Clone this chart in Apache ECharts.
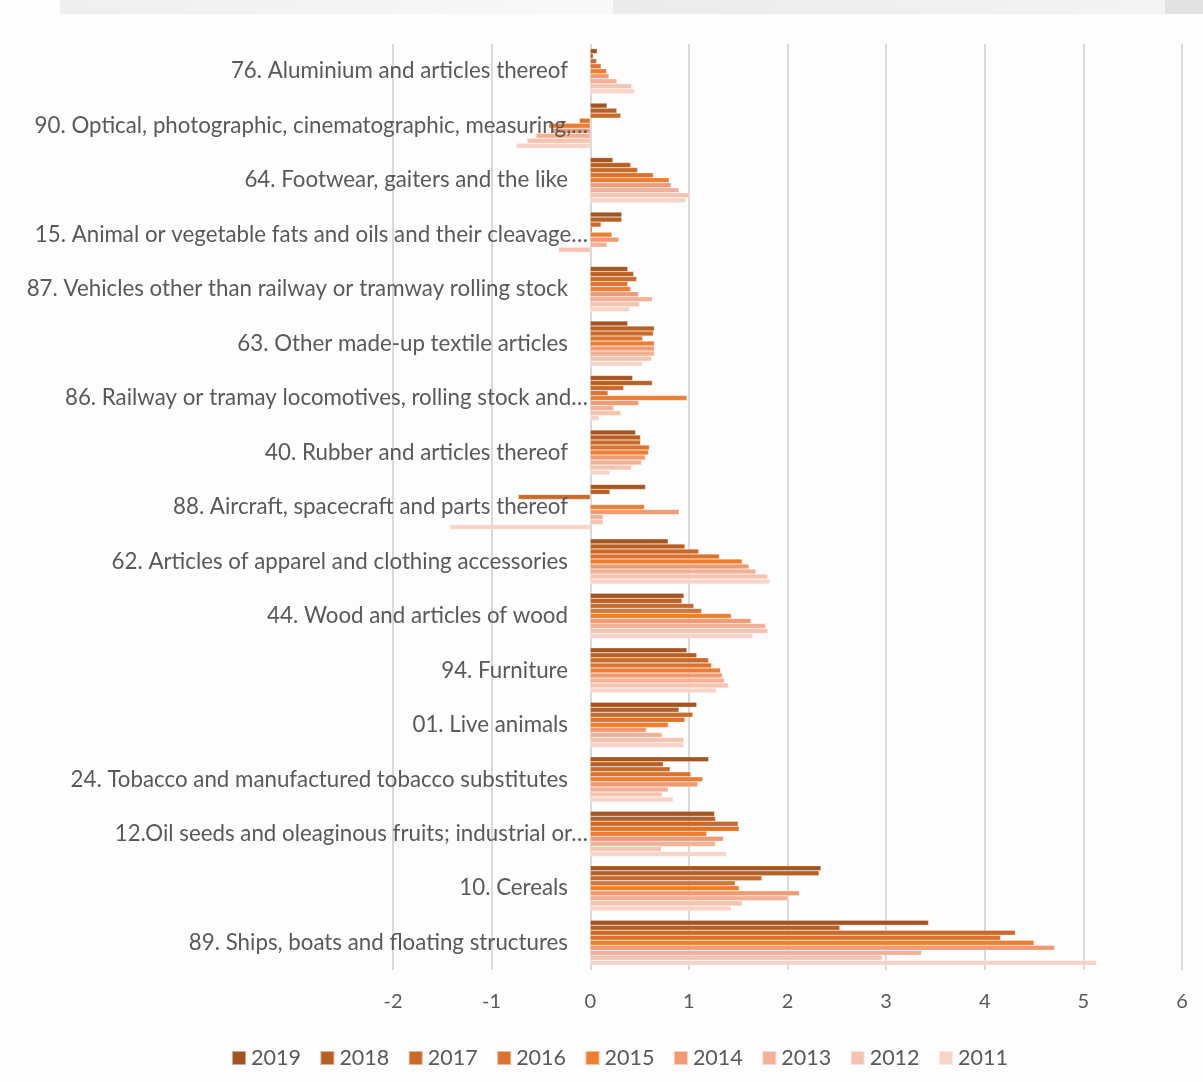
<!DOCTYPE html>
<html>
<head>
<meta charset="utf-8">
<script src="https://cdn.jsdelivr.net/npm/echarts@6/dist/echarts.min.js"></script>
<style>
html,body{margin:0;padding:0;background:#fdfdfd;}
#c{width:1203px;height:1082px;}
</style>
</head>
<body>
<div id="c"></div>
<script>
const categories = [
  "76. Aluminium and articles thereof",
  "90. Optical, photographic, cinematographic, measuring,…",
  "64. Footwear, gaiters and the like",
  "15. Animal or vegetable fats and oils and their cleavage…",
  "87. Vehicles other than railway or tramway rolling stock",
  "63. Other made-up textile articles",
  "86. Railway or tramay locomotives, rolling stock and…",
  "40. Rubber and articles thereof",
  "88. Aircraft, spacecraft and parts thereof",
  "62. Articles of apparel and clothing accessories",
  "44. Wood and articles of wood",
  "94. Furniture",
  "01. Live animals",
  "24. Tobacco and manufactured tobacco substitutes",
  "12.Oil seeds and oleaginous fruits; industrial or…",
  "10. Cereals",
  "89. Ships, boats and floating structures"
];
const years = ["2019","2018","2017","2016","2015","2014","2013","2012","2011"];
const v2019 = [0.07, 0.17, 0.23, 0.32, 0.38, 0.38, 0.43, 0.46, 0.56, 0.79, 0.95, 0.98, 1.08, 1.20, 1.26, 2.34, 3.43];
const v2018 = [0.03, 0.27, 0.41, 0.32, 0.44, 0.65, 0.63, 0.51, 0.20, 0.96, 0.93, 1.08, 0.90, 0.74, 1.27, 2.32, 2.53];
const v2017 = [0.065, 0.31, 0.48, 0.11, 0.47, 0.64, 0.34, 0.51, -0.73, 1.10, 1.05, 1.20, 1.04, 0.81, 1.50, 1.74, 4.31];
const v2016 = [0.11, -0.11, 0.64, 0.02, 0.38, 0.53, 0.18, 0.60, 0, 1.31, 1.13, 1.23, 0.96, 1.02, 1.51, 1.47, 4.16];
const v2015 = [0.165, -0.42, 0.80, 0.22, 0.41, 0.65, 0.98, 0.59, 0.55, 1.54, 1.43, 1.32, 0.79, 1.14, 1.18, 1.51, 4.50];
const v2014 = [0.19, -0.40, 0.82, 0.29, 0.49, 0.65, 0.49, 0.56, 0.90, 1.61, 1.63, 1.34, 0.57, 1.09, 1.35, 2.12, 4.71];
const v2013 = [0.27, -0.55, 0.90, 0.17, 0.63, 0.65, 0.24, 0.52, 0.13, 1.68, 1.78, 1.36, 0.73, 0.79, 1.27, 2.00, 3.36];
const v2012 = [0.42, -0.64, 1.01, -0.32, 0.50, 0.62, 0.31, 0.42, 0.13, 1.80, 1.80, 1.40, 0.95, 0.73, 0.72, 1.54, 2.96];
const v2011 = [0.45, -0.75, 0.97, -0.01, 0.40, 0.53, 0.09, 0.20, -1.42, 1.82, 1.65, 1.28, 0.95, 0.84, 1.38, 1.43, 5.13];
const seriesValues = [v2019, v2018, v2017, v2016, v2015, v2014, v2013, v2012, v2011];
const colors = ["#A35421","#B85F24","#C96A2B","#DB732F","#ED7D31","#F09A72","#F3B096","#F6C3B1","#F8D3C7"];
const xTicks = [-2, -1, 0, 1, 2, 3, 4, 5, 6];

const FONT = "Lato";
const chart = echarts.init(document.getElementById('c'));
chart.setOption({
  backgroundColor: '#fdfdfd',
  animation: false,
  color: colors,
  graphic: [
    {type:'rect', shape:{x:60,y:0,width:553,height:14}, style:{fill:new echarts.graphic.LinearGradient(0,0,1,0,[{offset:0,color:'#efeff1'},{offset:1,color:'#f9f9f9'}])}},
    {type:'rect', shape:{x:613,y:0,width:552,height:14}, style:{fill:new echarts.graphic.LinearGradient(0,0,1,0,[{offset:0,color:'#ebebed'},{offset:1,color:'#f4f4f4'}])}},
    {type:'rect', shape:{x:1165,y:0,width:38,height:14}, style:{fill:'#e2e2e2'}}
  ],
  grid: {left: 393, right: 21, top: 44, bottom: 112, containLabel: false, outerBoundsMode: 'none'},
  legend: {
    data: years,
    left: 226, top: 1042,
    itemWidth: 14, itemHeight: 14, itemGap: 18.5,
    icon: 'rect',
    textStyle: {fontFamily: FONT, fontSize: 21.5, color: '#595959'}
  },
  xAxis: {
    type: 'value', min: xTicks[0], max: xTicks[xTicks.length-1], interval: 1,
    axisLine: {show: false}, axisTick: {show: false},
    axisLabel: {fontFamily: FONT, fontSize: 20, color: '#595959', margin: 22},
    splitLine: {lineStyle: {color: '#d9d9d9', width: 2}}
  },
  yAxis: {
    type: 'category', data: categories, inverse: true,
    offset: -198,
    z: 10,
    axisLine: {show: false},
    axisTick: {show: false},
    axisLabel: {
      margin: 3,
      formatter: function (v) {
        return v.endsWith('…') ? '{e|' + v + '}' : '{n|' + v + '}';
      },
      rich: {
        n: {fontFamily: FONT, fontSize: 22.3, color: '#595959', padding: [0, 20, 0, 0]},
        e: {fontFamily: FONT, fontSize: 22.3, color: '#595959', padding: [0, 0, 0, 0]}
      }
    }
  },
  series: years.map((y, i) => ({
    name: y, type: 'bar', data: seriesValues[i],
    barGap: '0%', barCategoryGap: '17%', z: 2,
    itemStyle: {color: colors[i], borderColor: 'rgba(255,255,255,0.5)', borderWidth: 0.5}
  }))
});
</script>
</body>
</html>
